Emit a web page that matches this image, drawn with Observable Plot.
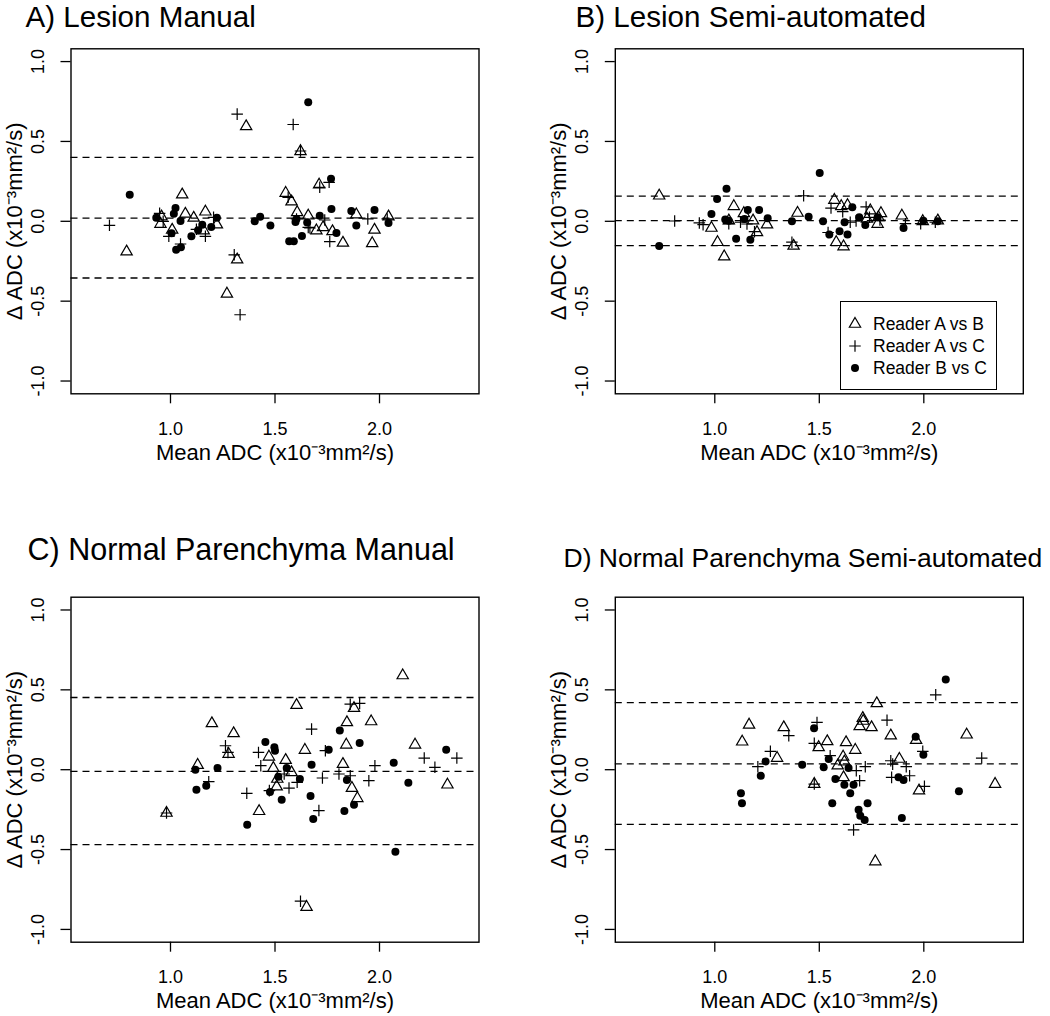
<!DOCTYPE html>
<html>
<head>
<meta charset="utf-8">
<script src="https://cdn.jsdelivr.net/npm/d3@7"></script>
<script src="https://cdn.jsdelivr.net/npm/@observablehq/plot@0.6"></script>
<style>
  html, body { margin: 0; padding: 0; background: #fff; }
  #root { position: relative; width: 1050px; height: 1016px; overflow: hidden;
          font-family: "Liberation Sans", Arial, Helvetica, sans-serif; color: #000; }
  .panel { position: absolute; }
  .panel svg { overflow: visible; }
  .legend { position: absolute; border: 1.3px solid #000; background: #fff; box-sizing: border-box; }
  .legend .item { position: absolute; left: 0; height: 22px; display: flex; align-items: center; white-space: nowrap; }
  .legend .item span { font-size: 17.5px; line-height: 22px; }
</style>
</head>
<body>
<div id="root"></div>
<script>
// ---------- tick values, labels ----------
const xTicks = [1.0, 1.5, 2.0];
const yTicks = [-1.0, -0.5, 0.0, 0.5, 1.0];
const seriesNames = ["Reader A vs B", "Reader A vs C", "Reader B vs C"];
const panelTitles = ["A) Lesion Manual", "B) Lesion Semi-automated",
                     "C) Normal Parenchyma Manual", "D) Normal Parenchyma Semi-automated"];
const xLabel = "Mean ADC (x10\u207B\u00B3mm\u00B2/s)";
const yLabel = "\u0394 ADC (x10\u207B\u00B3mm\u00B2/s)";

// ---------- A) Lesion Manual : [mean, difference] ----------
const lesionManualAB = [[0.79,-0.19],[1.056,0.167],[0.957,0.029],[0.952,-0.017],[1.008,-0.054],[1.071,0.046],[1.111,0.021],[1.167,0.06],[1.222,-0.021],[1.159,-0.058],[1.362,0.594],[1.319,-0.24],[1.27,-0.454],[1.551,0.177],[1.579,0.123],[1.606,0.056],[1.622,0.438],[1.711,0.229],[1.659,0.035],[1.698,-0.058],[1.73,-0.038],[1.775,-0.063],[1.825,-0.135],[1.889,0.042],[1.976,-0.054],[1.965,-0.138],[2.043,0.029]];
const lesionManualAC = [[0.708,-0.025],[0.948,0.05],[0.992,-0.094],[1.048,-0.142],[1.124,-0.05],[1.167,-0.094],[1.206,0.025],[1.319,0.671],[1.305,-0.21],[1.333,-0.585],[1.587,0.606],[1.622,0.44],[1.714,0.213],[1.759,0.244],[1.563,0.15],[1.738,0.008],[1.762,-0.127],[1.659,-0.038],[1.944,0.015],[2.037,0.015],[1.603,0.015],[1.667,-0.042],[0.965,0.0]];
const lesionManualBC = [[0.805,0.167],[1.659,0.746],[1.768,0.267],[1.77,0.077],[1.865,0.065],[1.976,0.071],[2.043,-0.01],[1.889,-0.027],[1.794,-0.073],[1.568,-0.125],[1.59,-0.125],[1.629,-0.092],[1.598,-0.004],[1.603,0.015],[1.654,-0.008],[1.714,0.035],[1.403,0.0],[1.429,0.029],[1.478,-0.027],[0.932,0.023],[1.024,0.083],[1.016,0.048],[1.048,0.002],[1.005,-0.075],[1.027,-0.178],[1.05,-0.163],[1.1,-0.094],[1.132,-0.056],[1.152,-0.022],[1.195,-0.036],[1.222,0.023]];
const lesionManualLimits = [0.40, 0.02, -0.355];

// ---------- B) Lesion Semi-automated ----------
const lesionSemiAB = [[0.734,0.16],[0.984,-0.042],[1.013,-0.131],[1.045,-0.221],[1.091,0.094],[1.139,0.05],[1.183,0.004],[1.202,-0.069],[1.25,-0.021],[1.067,0.004],[1.396,0.052],[1.377,-0.154],[1.572,0.133],[1.605,0.094],[1.635,0.1],[1.581,-0.131],[1.616,-0.158],[1.744,0.067],[1.783,0.025],[1.795,0.05],[1.779,-0.017],[1.895,0.035],[1.995,0.0],[2.067,0.004],[1.728,0.015]];
const lesionSemiAC = [[0.808,0.002],[0.926,-0.01],[0.944,-0.021],[1.067,-0.015],[1.123,-0.006],[1.154,-0.017],[1.19,-0.065],[1.425,0.16],[1.369,-0.131],[1.556,0.083],[1.612,0.06],[1.724,0.09],[1.648,-0.006],[1.676,0.002],[1.542,-0.07],[1.912,-0.015],[1.985,-0.015],[1.79,0.008],[1.74,0.025],[2.055,-0.006]];
const lesionSemiBC = [[0.734,-0.154],[1.056,0.204],[1.011,0.14],[0.984,0.046],[1.067,0.004],[1.102,-0.11],[1.158,0.071],[1.17,-0.115],[1.212,0.071],[1.253,0.019],[1.142,0.015],[1.369,0.0],[1.449,0.029],[1.502,0.302],[1.518,0.0],[1.548,-0.083],[1.597,-0.063],[1.635,-0.083],[1.658,0.088],[1.621,-0.006],[1.691,0.025],[1.72,-0.023],[1.779,0.025],[1.903,-0.042],[1.998,0.004],[2.067,0.0],[1.05,0.012]];
const lesionSemiLimits = [0.158, 0.004, -0.152];

// ---------- C) Normal Parenchyma Manual ----------
const normalManualAB = [[0.981,-0.271],[1.13,0.029],[1.198,0.29],[1.302,0.227],[1.278,0.098],[1.424,-0.26],[1.471,0.081],[1.492,0.01],[1.508,-0.106],[1.551,0.06],[1.579,-0.017],[1.603,0.404],[1.643,0.123],[1.651,-0.86],[1.844,0.296],[1.841,0.156],[1.825,0.035],[1.878,0.385],[1.96,0.302],[1.868,-0.115],[1.894,-0.179],[2.111,0.59],[2.17,0.156],[2.325,-0.094],[1.511,-0.058]];
const normalManualAC = [[0.981,-0.271],[1.183,-0.075],[1.263,0.15],[1.275,0.108],[1.365,-0.148],[1.421,0.108],[1.432,0.025],[1.473,-0.131],[1.567,-0.115],[1.606,-0.079],[1.544,-0.027],[1.675,0.254],[1.727,-0.052],[1.741,0.119],[1.71,-0.256],[1.622,-0.823],[1.806,-0.027],[1.86,-0.038],[1.86,0.41],[1.905,0.415],[1.949,-0.069],[1.978,0.025],[2.214,0.073],[2.265,0.015],[2.37,0.073]];
const normalManualBC = [[1.119,0.0],[1.124,-0.125],[1.171,-0.1],[1.225,0.01],[1.367,-0.344],[1.454,0.173],[1.497,0.14],[1.5,0.119],[1.476,-0.14],[1.532,-0.188],[1.516,-0.044],[1.556,0.01],[1.619,-0.058],[1.675,0.031],[1.67,-0.165],[1.683,-0.308],[1.757,0.125],[1.81,0.246],[1.844,-0.065],[1.832,-0.258],[1.878,-0.219],[1.905,0.167],[2.068,0.044],[2.138,-0.081],[2.076,-0.513],[2.319,0.125]];
const normalManualLimits = [0.452, -0.01, -0.469];

// ---------- D) Normal Parenchyma Semi-automated ----------
const normalSemiAB = [[1.131,0.175],[1.164,0.281],[1.33,0.265],[1.298,0.073],[1.476,-0.09],[1.497,0.14],[1.538,0.177],[1.628,0.171],[1.672,0.123],[1.614,0.081],[1.62,0.05],[1.588,0.025],[1.616,-0.048],[1.708,0.323],[1.693,0.271],[1.75,0.265],[1.775,0.415],[1.842,0.213],[1.768,-0.575],[1.883,0.067],[1.963,0.185],[1.977,-0.131],[2.205,0.219],[2.341,-0.09],[1.71,0.305]];
const normalSemiAC = [[1.206,0.019],[1.266,0.115],[1.354,0.213],[1.489,0.296],[1.476,0.165],[1.552,0.088],[1.677,-0.006],[1.693,-0.069],[1.72,0.019],[1.824,0.31],[1.842,0.056],[1.851,0.035],[1.846,-0.048],[1.916,0.019],[1.932,-0.038],[1.995,0.115],[2.003,-0.104],[2.057,0.469],[2.277,0.073],[1.664,-0.377],[1.476,-0.09]];
const normalSemiBC = [[1.125,-0.148],[1.13,-0.21],[1.22,-0.038],[1.243,0.052],[1.418,0.031],[1.475,0.26],[1.521,0.015],[1.545,0.067],[1.577,-0.058],[1.562,-0.21],[1.62,-0.094],[1.64,0.01],[1.648,-0.148],[1.664,-0.094],[1.688,-0.25],[1.696,-0.288],[1.717,-0.315],[1.731,-0.21],[1.879,-0.048],[1.903,-0.065],[1.895,-0.302],[1.961,0.206],[1.998,0.094],[2.105,0.565],[2.168,-0.135]];
const normalSemiLimits = [0.42, 0.037, -0.342];

// ---------- layout (styling only) ----------
const FONT = "'Liberation Sans', Arial, Helvetica, sans-serif";
const symTri = {symbol: "triangle2", r: 5.4, fill: "none", stroke: "#000", strokeWidth: 1.2};
const symPlus = {symbol: "plus", r: 3.8, fill: "none", stroke: "#000", strokeWidth: 1.2};
const symDot = {symbol: "circle", r: 4.0, fill: "#000", stroke: "none"};

const panels = [
  {title: panelTitles[0], ab: lesionManualAB, ac: lesionManualAC, bc: lesionManualBC, lim: lesionManualLimits,
   left: 0, top: 0, width: 525, height: 500, ml: 70.5, mr: 46.5, mt: 48.3, mb: 106.7, tSize: 29.6, tdx: -45.5, tdy: -22.3},
  {title: panelTitles[1], ab: lesionSemiAB, ac: lesionSemiAC, bc: lesionSemiBC, lim: lesionSemiLimits,
   left: 525, top: 0, width: 525, height: 500, ml: 89.8, mr: 27.2, mt: 48.3, mb: 106.7, tSize: 29.6, tdx: -39.8, tdy: -22.3},
  {title: panelTitles[2], ab: normalManualAB, ac: normalManualAC, bc: normalManualBC, lim: normalManualLimits,
   left: 0, top: 500, width: 525, height: 516, ml: 70.5, mr: 46.5, mt: 96.7, mb: 74.3, tSize: 30.5, tdx: -43.5, tdy: -37.5},
  {title: panelTitles[3], ab: normalSemiAB, ac: normalSemiAC, bc: normalSemiBC, lim: normalSemiLimits,
   left: 525, top: 500, width: 525, height: 516, ml: 89.8, mr: 27.2, mt: 96.7, mb: 74.3, tSize: 26.5, tdx: -51.8, tdy: -30.5}
];

const root = document.getElementById("root");
const fmt = d => d.toFixed(1);
const X = d => d[0], Y = d => d[1];

for (const p of panels) {
  const chart = Plot.plot({
    width: p.width, height: p.height,
    marginLeft: p.ml, marginRight: p.mr, marginTop: p.mt, marginBottom: p.mb,
    style: {fontFamily: FONT, color: "#000", background: "transparent", overflow: "visible"},
    x: {domain: [0.524, 2.476]},
    y: {domain: [-1.08, 1.08]},
    marks: [
      Plot.ruleY(p.lim, {stroke: "#000", strokeWidth: 1.3, strokeDasharray: "7,5"}),
      Plot.dot(p.ab, {x: X, y: Y, ...symTri}),
      Plot.dot(p.ac, {x: X, y: Y, ...symPlus}),
      Plot.dot(p.bc, {x: X, y: Y, ...symDot}),
      Plot.frame({stroke: "#000", strokeWidth: 1.4}),
      Plot.axisX({ticks: xTicks, tickFormat: fmt, tickSize: 10, tickPadding: 18, fontSize: 18, label: null, strokeWidth: 1.3}),
      Plot.axisY({ticks: yTicks, tickFormat: fmt, tickSize: 10, tickPadding: 17.5, tickRotate: -90, fontSize: 18, label: null, strokeWidth: 1.3}),
      Plot.text([xLabel], {text: d => d, frameAnchor: "bottom", dy: 66, lineAnchor: "bottom", fontSize: 22}),
      Plot.text([yLabel], {text: d => d, frameAnchor: "left", dx: -49, rotate: -90, textAnchor: "middle", lineAnchor: "bottom", fontSize: 22}),
      Plot.text([p.title], {text: d => d, frameAnchor: "top-left", dx: p.tdx, dy: p.tdy, textAnchor: "start", lineAnchor: "bottom", fontSize: p.tSize})
    ]
  });
  const wrap = document.createElement("div");
  wrap.className = "panel";
  wrap.style.left = p.left + "px";
  wrap.style.top = p.top + "px";
  wrap.appendChild(chart);
  root.appendChild(wrap);
}

// ---------- legend (panel B) ----------
const legend = document.createElement("div");
legend.className = "legend";
Object.assign(legend.style, {left: "840px", top: "301px", width: "157px", height: "89px"});
const legendSyms = [symTri, symPlus, symDot];
const d3sym = {triangle2: d3.symbolTriangle2, plus: d3.symbolPlus, circle: d3.symbolCircle};
seriesNames.forEach((name, i) => {
  const s = legendSyms[i];
  const item = document.createElement("div");
  item.className = "item";
  item.style.top = (11 + i * 22) + "px";
  const svg = d3.create("svg").attr("width", 32).attr("height", 22);
  svg.append("path")
    .attr("transform", "translate(14,11)")
    .attr("d", d3.symbol(d3sym[s.symbol], Math.PI * s.r * s.r)())
    .attr("fill", s.fill).attr("stroke", s.stroke).attr("stroke-width", s.strokeWidth || 0);
  item.appendChild(svg.node());
  const t = document.createElement("span");
  t.textContent = name;
  item.appendChild(t);
  legend.appendChild(item);
});
root.appendChild(legend);
</script>
</body>
</html>
